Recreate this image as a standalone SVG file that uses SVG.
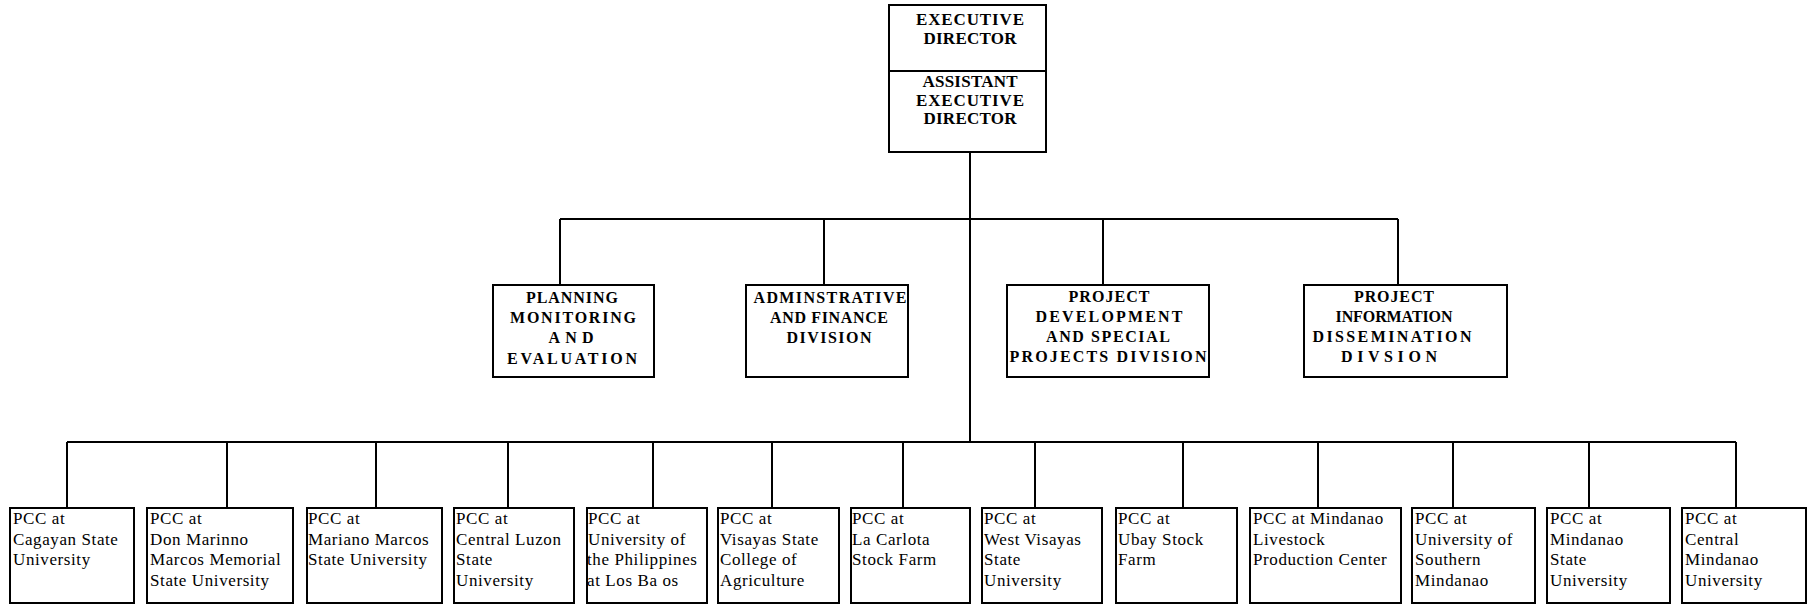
<svg xmlns="http://www.w3.org/2000/svg" width="1811" height="606" viewBox="0 0 1811 606">
<style>
.bg{fill:#fff}
.box{fill:#fff;stroke:#000;stroke-width:2}
.ln{fill:none;stroke:#000;stroke-width:2}
.b{font-family:"Liberation Serif","Times New Roman",serif;font-weight:bold;font-size:16px;fill:#000;text-anchor:middle}
.t{font-family:"Liberation Serif","Times New Roman",serif;font-weight:bold;font-size:17px;fill:#000;text-anchor:middle}
.r{font-family:"Liberation Serif","Times New Roman",serif;font-size:17px;letter-spacing:0.6px;fill:#000}
</style>
<rect class="bg" x="0" y="0" width="1811" height="606"/>
<g id="connectors">
<path class="ln" d="M970,152 V442"/>
<path class="ln" d="M560,219 H1398"/>
<path class="ln" d="M560,219 V285 M824,219 V285 M1103,219 V285 M1398,219 V285"/>
<path class="ln" d="M67,442 H1736"/>
<path class="ln" d="M67,442 V508 M227,442 V508 M376,442 V508 M508,442 V508 M653,442 V508 M772,442 V508 M903,442 V508 M1035,442 V508 M1183,442 V508 M1318,442 V508 M1453,442 V508 M1589,442 V508 M1736,442 V508"/>
</g>
<g id="executive-director">
<rect class="box" x="889" y="5" width="157" height="147"/>
<line class="ln" x1="889" y1="71" x2="1046" y2="71"/>
<text class="t" x="970" y="25" textLength="108" lengthAdjust="spacing">EXECUTIVE</text>
<text class="t" x="970" y="44" textLength="93" lengthAdjust="spacing">DIRECTOR</text>
<text class="t" x="970" y="87" textLength="95" lengthAdjust="spacing">ASSISTANT</text>
<text class="t" x="970" y="106" textLength="108" lengthAdjust="spacing">EXECUTIVE</text>
<text class="t" x="970" y="124" textLength="93" lengthAdjust="spacing">DIRECTOR</text>
</g>
<g id="planning">
<rect class="box" x="493" y="285" width="161" height="92"/>
<text class="b" x="572" y="303" textLength="92" lengthAdjust="spacing">PLANNING</text>
<text class="b" x="573" y="323" textLength="126" lengthAdjust="spacing">MONITORING</text>
<text class="b" x="571" y="343" textLength="45" lengthAdjust="spacing">AND</text>
<text class="b" x="572" y="364" textLength="130" lengthAdjust="spacing">EVALUATION</text>
</g>
<g id="admin-finance">
<rect class="box" x="746" y="285" width="162" height="92"/>
<text class="b" x="830" y="303" textLength="153" lengthAdjust="spacing">ADMINSTRATIVE</text>
<text class="b" x="829" y="323" textLength="118" lengthAdjust="spacing">AND FINANCE</text>
<text class="b" x="829" y="343" textLength="85" lengthAdjust="spacing">DIVISION</text>
</g>
<g id="project-development">
<rect class="box" x="1007" y="285" width="202" height="92"/>
<text class="b" x="1109" y="302" textLength="81" lengthAdjust="spacing">PROJECT</text>
<text class="b" x="1109" y="322" textLength="147" lengthAdjust="spacing">DEVELOPMENT</text>
<text class="b" x="1108" y="342" textLength="124" lengthAdjust="spacing">AND SPECIAL</text>
<text class="b" x="1108" y="362" textLength="197" lengthAdjust="spacing">PROJECTS DIVISION</text>
</g>
<g id="project-information">
<rect class="box" x="1304" y="285" width="203" height="92"/>
<text class="b" x="1394" y="302" textLength="80" lengthAdjust="spacing">PROJECT</text>
<text class="b" x="1394" y="322" textLength="117" lengthAdjust="spacing">INFORMATION</text>
<text class="b" x="1392" y="342" textLength="159" lengthAdjust="spacing">DISSEMINATION</text>
<text class="b" x="1389" y="362" textLength="96" lengthAdjust="spacing">DIVSION</text>
</g>
<g id="pcc-cagayan">
<rect class="box" x="10" y="508" width="124" height="95"/>
<text class="r" x="13" y="524">PCC at</text>
<text class="r" x="13" y="544.5">Cagayan State</text>
<text class="r" x="13" y="565">University</text>
</g>
<g id="pcc-dmmmsu">
<rect class="box" x="147" y="508" width="146" height="95"/>
<text class="r" x="150" y="524">PCC at</text>
<text class="r" x="150" y="544.5">Don Marinno</text>
<text class="r" x="150" y="565">Marcos Memorial</text>
<text class="r" x="150" y="585.5">State University</text>
</g>
<g id="pcc-mmsu">
<rect class="box" x="307" y="508" width="135" height="95"/>
<text class="r" x="308" y="524">PCC at</text>
<text class="r" x="308" y="544.5">Mariano Marcos</text>
<text class="r" x="308" y="565">State University</text>
</g>
<g id="pcc-clsu">
<rect class="box" x="454" y="508" width="120" height="95"/>
<text class="r" x="456" y="524">PCC at</text>
<text class="r" x="456" y="544.5">Central Luzon</text>
<text class="r" x="456" y="565">State</text>
<text class="r" x="456" y="585.5">University</text>
</g>
<g id="pcc-uplb">
<rect class="box" x="587" y="508" width="120" height="95"/>
<text class="r" x="588" y="524">PCC at</text>
<text class="r" x="588" y="544.5">University of</text>
<text class="r" x="587" y="565">the Philippines</text>
<text class="r" x="587" y="585.5">at Los Ba os</text>
</g>
<g id="pcc-vsca">
<rect class="box" x="718" y="508" width="121" height="95"/>
<text class="r" x="720" y="524">PCC at</text>
<text class="r" x="720" y="544.5">Visayas State</text>
<text class="r" x="720" y="565">College of</text>
<text class="r" x="720" y="585.5">Agriculture</text>
</g>
<g id="pcc-la-carlota">
<rect class="box" x="851" y="508" width="119" height="95"/>
<text class="r" x="852" y="524">PCC at</text>
<text class="r" x="852" y="544.5">La Carlota</text>
<text class="r" x="852" y="565">Stock Farm</text>
</g>
<g id="pcc-wvsu">
<rect class="box" x="982" y="508" width="120" height="95"/>
<text class="r" x="984" y="524">PCC at</text>
<text class="r" x="984" y="544.5">West Visayas</text>
<text class="r" x="984" y="565">State</text>
<text class="r" x="984" y="585.5">University</text>
</g>
<g id="pcc-ubay">
<rect class="box" x="1116" y="508" width="121" height="95"/>
<text class="r" x="1118" y="524">PCC at</text>
<text class="r" x="1118" y="544.5">Ubay Stock</text>
<text class="r" x="1118" y="565">Farm</text>
</g>
<g id="pcc-mlpc">
<rect class="box" x="1250" y="508" width="151" height="95"/>
<text class="r" x="1253" y="524">PCC at Mindanao</text>
<text class="r" x="1253" y="544.5">Livestock</text>
<text class="r" x="1253" y="565">Production Center</text>
</g>
<g id="pcc-usm">
<rect class="box" x="1412" y="508" width="123" height="95"/>
<text class="r" x="1415" y="524">PCC at</text>
<text class="r" x="1415" y="544.5">University of</text>
<text class="r" x="1415" y="565">Southern</text>
<text class="r" x="1415" y="585.5">Mindanao</text>
</g>
<g id="pcc-msu">
<rect class="box" x="1547" y="508" width="123" height="95"/>
<text class="r" x="1550" y="524">PCC at</text>
<text class="r" x="1550" y="544.5">Mindanao</text>
<text class="r" x="1550" y="565">State</text>
<text class="r" x="1550" y="585.5">University</text>
</g>
<g id="pcc-cmu">
<rect class="box" x="1682" y="508" width="124" height="95"/>
<text class="r" x="1685" y="524">PCC at</text>
<text class="r" x="1685" y="544.5">Central</text>
<text class="r" x="1685" y="565">Mindanao</text>
<text class="r" x="1685" y="585.5">University</text>
</g>
</svg>
